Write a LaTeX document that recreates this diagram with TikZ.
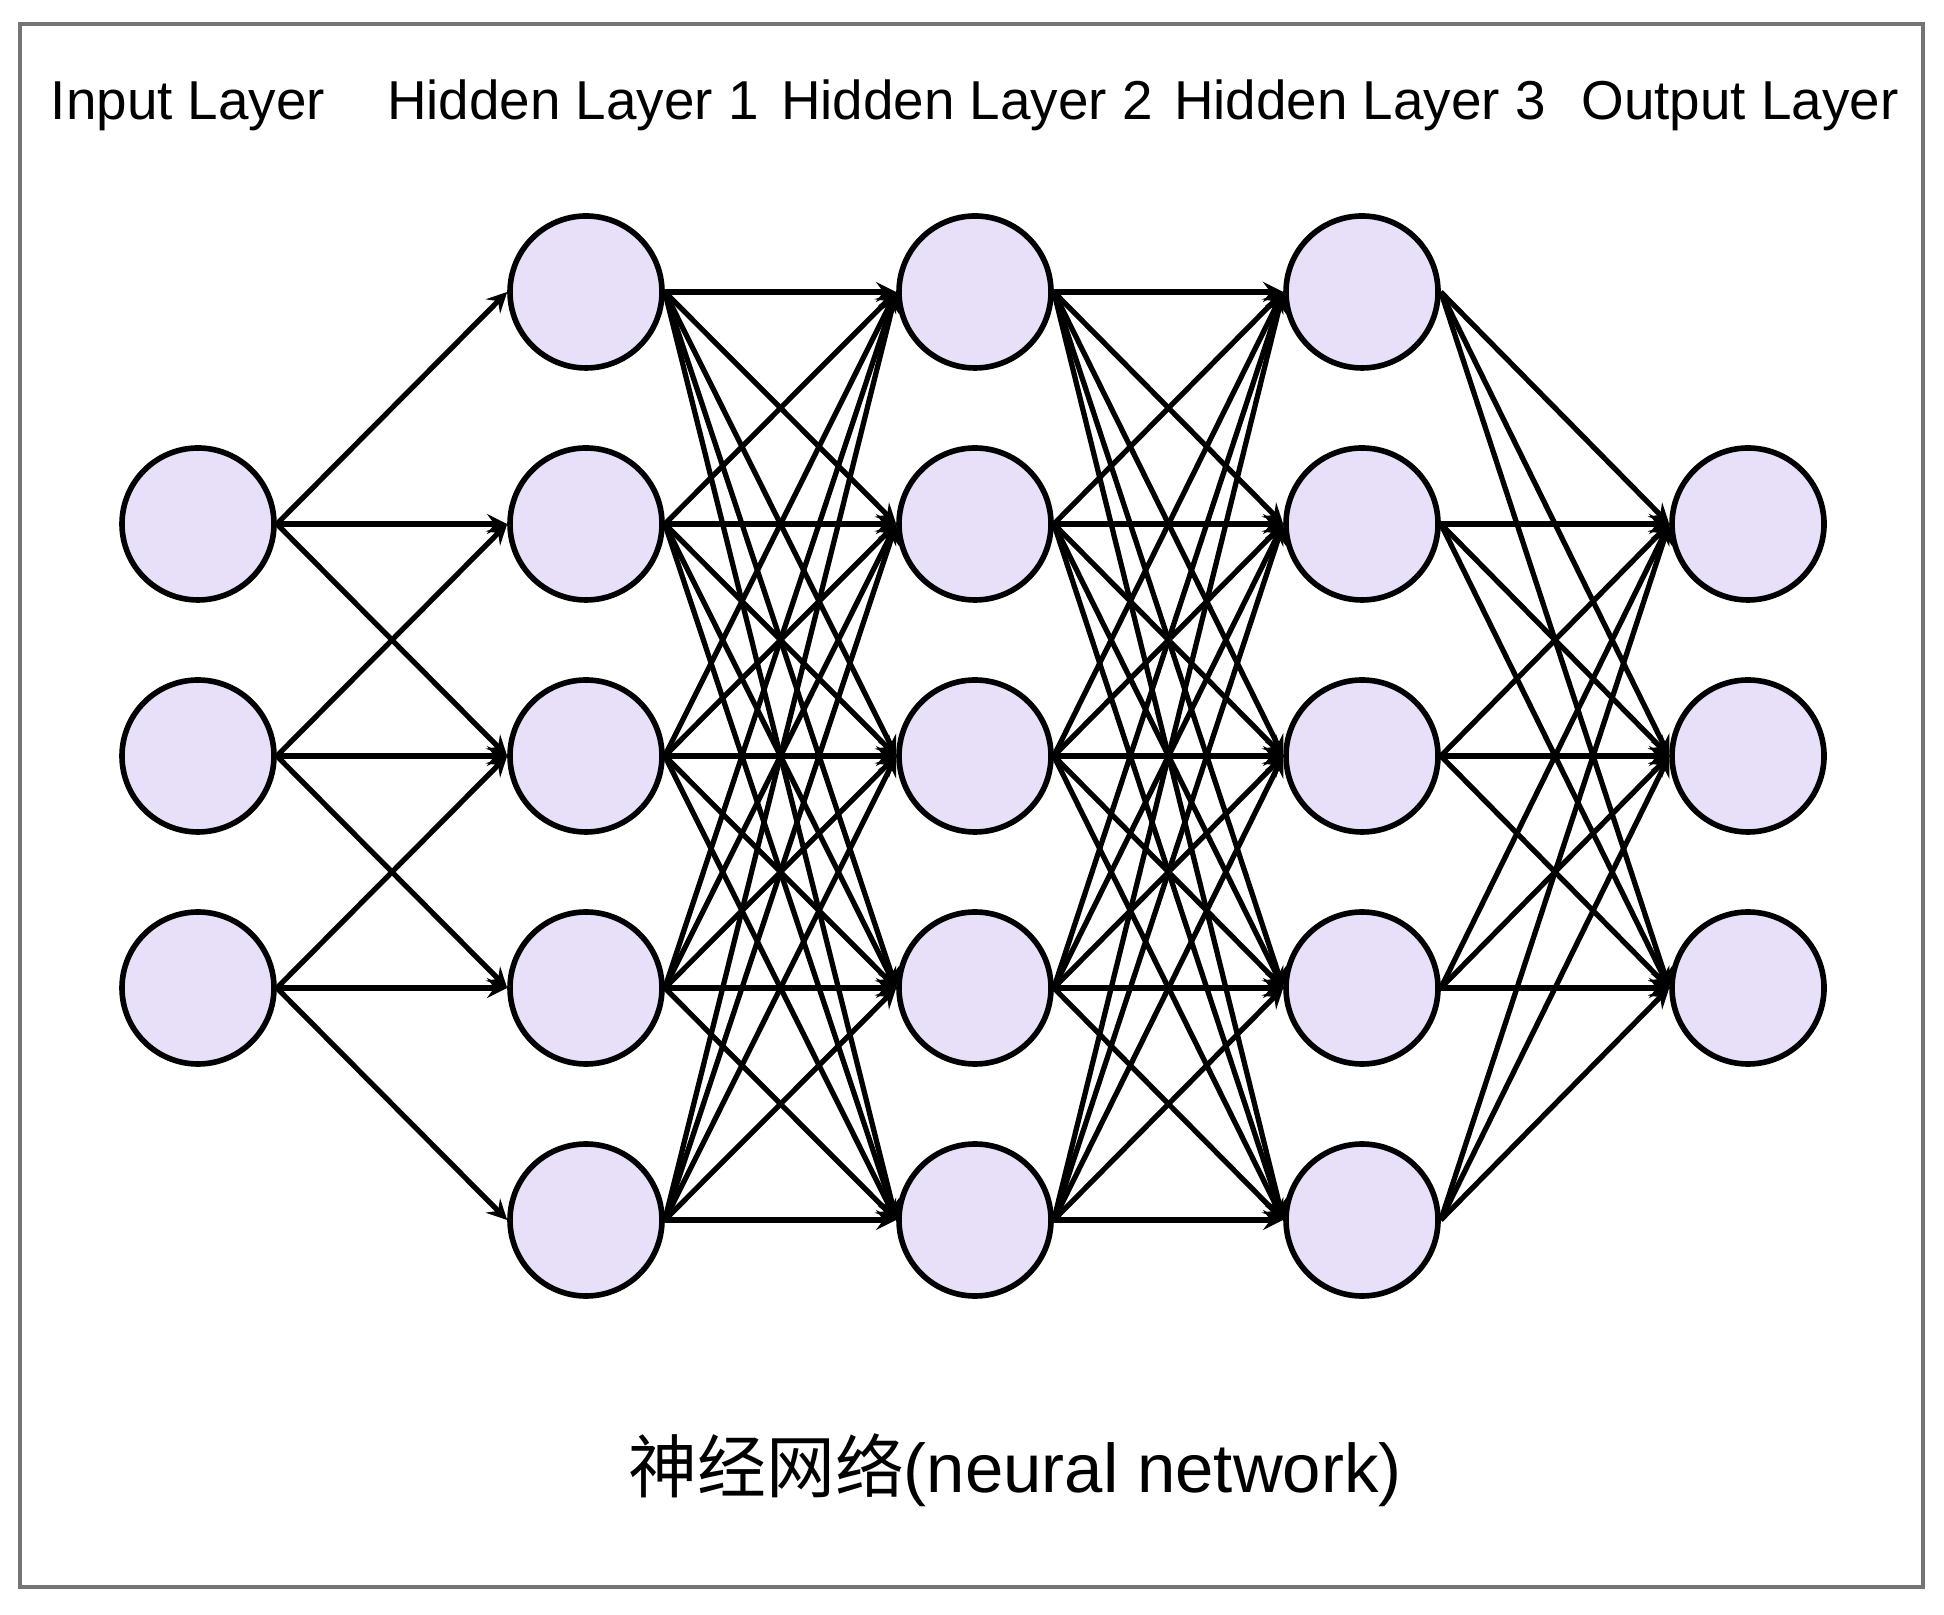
\documentclass[tikz,border=0pt]{standalone}
\usepackage{xcolor}
\usepackage{fontspec}
\setmainfont{Liberation Sans}
\newfontfamily\cjk{Noto Sans CJK SC}
\usepackage{tikz}
\usetikzlibrary{arrows,calc,positioning}

\definecolor{neuron}{HTML}{E8E0F8}
\definecolor{framegray}{HTML}{747474}

\begin{document}
\begin{tikzpicture}[arrow/.style = {line width=1.5pt,-stealth}]
					\tikzset{neuronnode/.style={draw=black,circle,line width=1.6pt,fill=neuron,minimum size=1.52cm,inner sep=0pt}}
					\tikzset{layerlabel/.style={anchor=base,font=\fontsize{15.6}{18}\selectfont,inner sep=0pt}}

					\useasboundingbox (0,0) rectangle (19.44,16.14);
					\draw[framegray, line width=0.9pt] (0.20,0.27) rectangle (19.23,15.90);

					% Layer titles
					\node[layerlabel] (lin) at (1.88,14.94) {Input Layer};
					\node[layerlabel] (lh1) at (5.73,14.94) {Hidden Layer 1};
					\node[layerlabel] (lh2) at (9.67,14.94) {Hidden Layer 2};
					\node[layerlabel] (lh3) at (13.60,14.94) {Hidden Layer 3};
					\node[layerlabel] (lout) at (17.40,14.94) {Output Layer};

					% Neurons
					\foreach \i in {2,3,4}
						\node[neuronnode] (in\i) at (1.98,{13.22-2.32*(\i-1)}) {};
					\foreach \i in {1,...,5} {
						\node[neuronnode] (ha\i) at (5.86,{13.22-2.32*(\i-1)}) {};
						\node[neuronnode] (hb\i) at (9.75,{13.22-2.32*(\i-1)}) {};
						\node[neuronnode] (hc\i) at (13.62,{13.22-2.32*(\i-1)}) {};
					}
					\foreach \i in {2,3,4}
						\node[neuronnode] (out\i) at (17.48,{13.22-2.32*(\i-1)}) {};

					% Connections
					\foreach \i in {2,3,4}
						\foreach \d in {-1,0,1} {
							\pgfmathtruncatemacro{\j}{\i+\d}
							\draw[arrow] (in\i.east) -- (ha\j.west);
						}
					\foreach \i in {1,...,5}
						\foreach \j in {1,...,5} {
							\draw[arrow] (ha\i.east) -- (hb\j.west);
							\draw[arrow] (hb\i.east) -- (hc\j.west);
						}
					\foreach \i in {1,...,5}
						\foreach \j in {2,3,4}
							\draw[arrow] (hc\i.east) -- (out\j.west);

					\node[anchor=base, inner sep=0pt, font=\fontsize{19.6}{23}\selectfont] (caption) at (10.15,1.22) {{\cjk 神经网络}(neural network)};

				\end{tikzpicture}
\end{document}
